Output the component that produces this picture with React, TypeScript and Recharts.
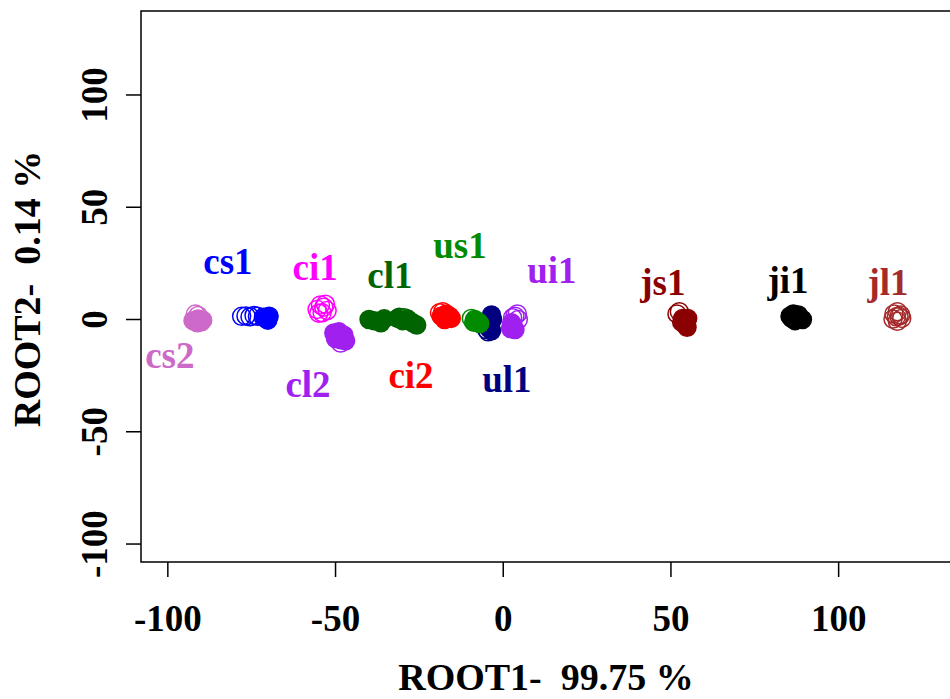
import React from "react";
import { ScatterChart, Scatter, XAxis, YAxis, ReferenceArea, Label } from "recharts";

const FONT = '"Liberation Serif", "Times New Roman", Times, serif';

// axis setup
const xTicks = [-100, -50, 0, 50, 100];
const yTicks = [-100, -50, 0, 50, 100];
const xDomain = [-108, 133.5];
const yDomain = [-108, 137.4];
const xTitle = "ROOT1-  99.75 %";
const yTitle = "ROOT2-  0.14 %";

// discriminant scores per group (open = hollow symbol, filled = solid symbol)
const cs2 = {
  open: [[-91.8, 2.4], [-91.0, 1.8]],
  filled: [[-92.5, -0.5], [-91.2, -1.5], [-90.0, -1.0], [-89.6, -0.3], [-91.0, 0.2]],
};
const cs1 = {
  open: [[-78.0, 1.4], [-76.7, 1.6], [-75.5, 1.2], [-74.3, 1.8], [-73.3, 1.5]],
  filled: [[-71.5, 1.0], [-70.5, 0.2], [-69.8, 1.5], [-70.2, -0.3]],
};
const ci1 = {
  open: [[-55.5, 4.5], [-54.5, 6.5], [-53.5, 5.5], [-52.5, 4.0], [-54.0, 3.0], [-53.0, 6.8], [-55.0, 2.8]],
  filled: [],
};
const cl2 = {
  open: [[-48.5, -10.5]],
  filled: [[-50.5, -6.0], [-49.0, -5.5], [-47.5, -7.0], [-48.5, -9.0], [-50.0, -8.5], [-47.0, -9.5]],
};
const cl1 = {
  open: [[-31.0, 1.0], [-29.5, 0.8]],
  filled: [[-40.0, 0.0], [-38.5, -0.5], [-36.5, -1.5], [-35.5, 0.3], [-31.5, 0.5], [-30.0, -0.5], [-28.5, 0.2], [-27.0, -1.5], [-25.8, -2.5]],
};
const ci2 = {
  open: [[-19.0, 3.0], [-18.0, 3.5]],
  filled: [[-18.5, 1.5], [-17.0, 2.5], [-16.0, 1.5], [-15.5, 0.5], [-17.5, 0.0]],
};
const ul1 = {
  open: [[-4.5, -5.5], [-5.0, -4.5]],
  filled: [[-3.5, 2.0], [-3.2, 0.0], [-4.0, -2.0], [-4.2, -4.0], [-3.5, -5.0]],
};
const us1 = {
  open: [[-9.5, 0.5]],
  filled: [[-8.5, 0.0], [-7.5, -1.0], [-7.0, -1.8], [-8.8, -1.2]],
};
const ui1 = {
  open: [[3.5, 1.5], [4.2, 2.5], [2.8, 0.8], [4.5, 0.0]],
  filled: [[2.5, -1.5], [3.0, -3.0], [2.2, -4.0], [3.5, -4.5]],
};
const js1 = {
  open: [[51.8, 2.5], [52.5, 3.5]],
  filled: [[53.5, 0.5], [54.5, -0.5], [54.0, -2.0], [54.8, -3.5], [53.2, -1.2], [55.0, 0.5]],
};
const ji1 = {
  open: [],
  filled: [[85.5, 1.5], [86.5, 2.5], [87.5, 1.0], [88.5, 0.5], [89.2, 0.0], [87.0, -0.5], [86.0, 0.5], [88.0, 2.0]],
};
const jl1 = {
  open: [[116.5, 2.5], [117.5, 3.5], [118.5, 2.0], [118.8, 0.5], [117.5, -0.8], [116.2, 0.2], [117.2, 1.2], [118.0, 1.5]],
  filled: [],
};

// group text labels (x centre, baseline y) in data units
const labelNames = ["cs1", "ci1", "cl1", "us1", "ui1", "js1", "ji1", "jl1", "cs2", "cl2", "ci2", "ul1"];
const labelX = [-82.1, -56.1, -33.8, -12.9, 14.5, 47.6, 84.9, 114.7, -99.4, -58.2, -27.5, 1.1];
const labelY = [20.3, 17.6, 14.0, 27.4, 16.3, 10.9, 11.8, 10.9, -21.6, -34.5, -30.5, -32.3];

const colors: Record<string, string> = {
  cs1: "#0000FF",
  ci1: "#FF00FF",
  cl1: "#006400",
  us1: "#008B00",
  ui1: "#A020F0",
  js1: "#8B0000",
  ji1: "#000000",
  jl1: "#A52A2A",
  cs2: "#CD69C9",
  cl2: "#A020F0",
  ci2: "#FF0000",
  ul1: "#000080",
};

// drawing order (later on top)
const groups: [string, { open: number[][]; filled: number[][] }][] = [
  ["cs2", cs2],
  ["cs1", cs1],
  ["ci1", ci1],
  ["cl2", cl2],
  ["cl1", cl1],
  ["ci2", ci2],
  ["ul1", ul1],
  ["us1", us1],
  ["ui1", ui1],
  ["js1", js1],
  ["ji1", ji1],
  ["jl1", jl1],
];

const toRows = (pts: number[][]) => pts.map(([x, y]) => ({ x, y }));
const labelRows = labelNames.map((name, i) => ({ name, x: labelX[i], y: labelY[i] }));

const makeDot = (color: string, filled: boolean) => (props: any) => (
  <circle
    cx={props.cx}
    cy={props.cy}
    r={9}
    fill={filled ? color : "none"}
    stroke={color}
    strokeWidth={1.5}
  />
);

const LabelShape = (props: any) => {
  const name = props.payload?.name ?? props.name;
  return (
    <text
      x={props.cx}
      y={props.cy}
      textAnchor="middle"
      fill={colors[name]}
      fontFamily={FONT}
      fontWeight="bold"
      fontSize={37}
    >
      {name}
    </text>
  );
};

const XTick = (props: any) => (
  <text
    x={props.x}
    y={props.y + 52}
    textAnchor="middle"
    fill="#000"
    fontFamily={FONT}
    fontWeight="bold"
    fontSize={37}
  >
    {props.payload.value}
  </text>
);

const YTick = (props: any) => {
  const bx = props.x - 17;
  return (
    <text
      x={bx}
      y={props.y}
      transform={`rotate(-90, ${bx}, ${props.y})`}
      textAnchor="middle"
      fill="#000"
      fontFamily={FONT}
      fontWeight="bold"
      fontSize={37}
    >
      {props.payload.value}
    </text>
  );
};

export default function App() {
  return (
    <div
      style={{
        position: "fixed",
        top: 0,
        left: 0,
        width: 950,
        height: 699,
        overflow: "hidden",
        background: "#fff",
      }}
    >
      <ScatterChart width={960} height={699} margin={{ top: 11, right: 9, bottom: 0, left: 0 }}>
        <XAxis
          type="number"
          dataKey="x"
          domain={xDomain}
          ticks={xTicks}
          allowDataOverflow
          height={137}
          axisLine={false}
          tickSize={15}
          tickLine={{ stroke: "#000", strokeWidth: 1.5 }}
          tick={XTick}
        >
          <Label
            content={({ viewBox }: any) => (
              <text
                x={viewBox.x + viewBox.width / 2}
                y={viewBox.y + 128}
                textAnchor="middle"
                fill="#000"
                fontFamily={FONT}
                fontWeight="bold"
                fontSize={38}
                style={{ whiteSpace: "pre" }}
              >
                {xTitle}
              </text>
            )}
          />
        </XAxis>
        <YAxis
          type="number"
          dataKey="y"
          domain={yDomain}
          ticks={yTicks}
          allowDataOverflow
          width={141}
          axisLine={false}
          tickSize={15}
          tickLine={{ stroke: "#000", strokeWidth: 1.5 }}
          tick={YTick}
        >
          <Label
            content={({ viewBox }: any) => {
              const cx = 40;
              const cy = viewBox.y + viewBox.height / 2 + 2.5;
              return (
                <text
                  x={cx}
                  y={cy}
                  transform={`rotate(-90, ${cx}, ${cy})`}
                  textAnchor="middle"
                  fill="#000"
                  fontFamily={FONT}
                  fontWeight="bold"
                  fontSize={38}
                  style={{ whiteSpace: "pre" }}
                >
                  {yTitle}
                </text>
              );
            }}
          />
        </YAxis>
        <ReferenceArea
          x1={xDomain[0]}
          x2={xDomain[1]}
          y1={yDomain[0]}
          y2={yDomain[1]}
          fill="none"
          stroke="#000"
          strokeWidth={1.5}
          ifOverflow="visible"
        />
        {groups.flatMap(([name, g]) => [
          <Scatter
            key={name + "-open"}
            data={toRows(g.open)}
            shape={makeDot(colors[name], false)}
            isAnimationActive={false}
          />,
          <Scatter
            key={name + "-filled"}
            data={toRows(g.filled)}
            shape={makeDot(colors[name], true)}
            isAnimationActive={false}
          />,
        ])}
        <Scatter data={labelRows} shape={LabelShape} isAnimationActive={false} />
      </ScatterChart>
    </div>
  );
}
